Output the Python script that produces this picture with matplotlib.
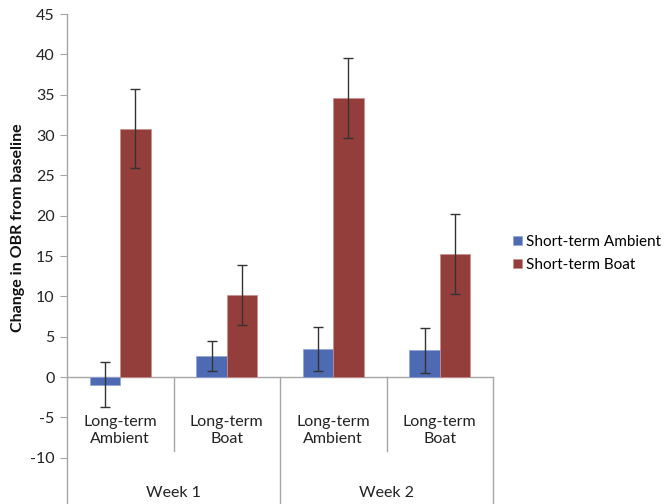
import matplotlib
matplotlib.use("Agg")
import matplotlib.pyplot as plt
import numpy as np

categories = ["Long-term\nAmbient", "Long-term\nBoat", "Long-term\nAmbient", "Long-term\nBoat"]
groups = ["Week 1", "Week 2"]
series_names = ["Short-term Ambient", "Short-term Boat"]
ambient = [-0.95, 2.6, 3.5, 3.3]
ambient_err = [2.8, 1.9, 2.7, 2.8]
boat = [30.8, 10.15, 34.6, 15.3]
boat_err = [4.85, 3.75, 4.95, 4.95]
yticks = [-10, -5, 0, 5, 10, 15, 20, 25, 30, 35, 40, 45]

plt.rcParams['font.family'] = ['Lato', 'DejaVu Sans']
fs = 11.5
fig = plt.figure(figsize=(6.64, 5.04), dpi=100)
ax = fig.add_axes([67/664, 0.0, (493-67)/664, 1 - 14/504])

ymin = -15.74
ax.set_xlim(-0.5, 3.5)
ax.set_ylim(ymin, 45)

x = np.arange(len(categories))
w = 0.286
blue = '#4E6AB3'
red = '#943E3C'
ax.bar(x - w/2, ambient, w, color=blue, edgecolor='#8FA3D6', linewidth=0.5, zorder=2,
       label=series_names[0])
ax.bar(x + w/2, boat, w, color=red, edgecolor='#C98F8D', linewidth=0.5, zorder=2,
       label=series_names[1])
ax.errorbar(x - w/2, ambient, yerr=ambient_err, fmt='none', ecolor='#333333',
            elinewidth=1, capsize=3.5, capthick=1, zorder=3)
ax.errorbar(x + w/2, boat, yerr=boat_err, fmt='none', ecolor='#333333',
            elinewidth=1, capsize=3.5, capthick=1, zorder=3)

grey = '#A6A6A6'
for s in ['top', 'right', 'bottom']:
    ax.spines[s].set_visible(False)
ax.spines['left'].set_color(grey)
ax.spines['left'].set_linewidth(1)
ax.axhline(0, color=grey, lw=1, zorder=1)

ax.set_yticks(yticks)
ax.set_yticklabels([str(t) for t in yticks], fontsize=fs, color='#222222')
ax.tick_params(axis='y', direction='out', length=5, color=grey, pad=4)
ax.set_xticks([])

ax.set_ylabel("Change in OBR from baseline", fontsize=fs, fontweight='bold',
              color='#111111')
ax.yaxis.set_label_coords(25/664, 1 - 228/504, transform=fig.transFigure)

# multi-level category labels
for i, c in enumerate(categories):
    ax.text(i, -6.6, c, ha='center', va='center', fontsize=fs, color='#222222',
            linespacing=1.3)
for g, name in enumerate(groups):
    ax.text(2 * g + 0.5, -14.4, name, ha='center', va='center', fontsize=fs,
            color='#222222')
short_bottom = -9.17
for xs in [0.5, 2.5]:
    ax.plot([xs, xs], [0, short_bottom], color=grey, lw=1, clip_on=False)
for xs in [1.5, 3.5]:
    ax.plot([xs, xs], [0, ymin], color=grey, lw=1, clip_on=False)

leg = fig.legend(loc='upper left', bbox_to_anchor=(499/664, 1 - 221/504), frameon=False,
                 fontsize=11, handlelength=0.6, handleheight=0.6, handletextpad=0.3,
                 labelspacing=0.6)

fig.savefig("out.png", dpi=100)
